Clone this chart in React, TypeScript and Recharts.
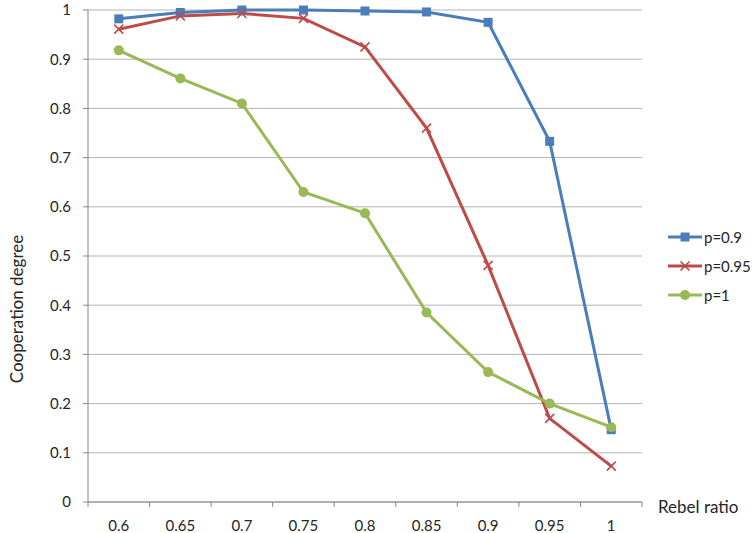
import React from 'react';
import { LineChart, Line, XAxis, YAxis, CartesianGrid } from 'recharts';

const categories = ['0.6', '0.65', '0.7', '0.75', '0.8', '0.85', '0.9', '0.95', '1'];
const p09 = [0.982, 0.995, 1.0, 1.0, 0.998, 0.996, 0.975, 0.733, 0.147];
const p095 = [0.961, 0.988, 0.993, 0.983, 0.925, 0.76, 0.481, 0.17, 0.073];
const p1 = [0.918, 0.861, 0.81, 0.63, 0.587, 0.385, 0.264, 0.2, 0.152];
const yTicks = [0, 0.1, 0.2, 0.3, 0.4, 0.5, 0.6, 0.7, 0.8, 0.9, 1];

const series = [
  { key: 'p09', name: 'p=0.9', color: '#4a7ebb', marker: 'square' },
  { key: 'p095', name: 'p=0.95', color: '#be4b48', marker: 'cross' },
  { key: 'p1', name: 'p=1', color: '#98b954', marker: 'circle' },
];

const data = categories.map((x, i) => ({ x, p09: p09[i], p095: p095[i], p1: p1[i] }));

const W = 755;
const H = 533;
const MARGIN = { top: 10, right: 113, bottom: 0, left: 0 };
const Y_W = 88;
const X_H = 31;
const BAND = (W - MARGIN.left - MARGIN.right - Y_W) / categories.length;
const FONT = 'Lato, "Open Sans", sans-serif';
const TEXT = '#262626';
const AXIS = '#868686';

const Marker = ({ type, cx, cy, color }: any) => {
  if (type === 'square') {
    return <rect x={cx - 4.5} y={cy - 4.5} width={9} height={9} fill={color} />;
  }
  if (type === 'cross') {
    return (
      <g stroke={color} strokeWidth={1.6}>
        <line x1={cx - 4.5} y1={cy - 4.5} x2={cx + 4.5} y2={cy + 4.5} />
        <line x1={cx - 4.5} y1={cy + 4.5} x2={cx + 4.5} y2={cy - 4.5} />
      </g>
    );
  }
  return <circle cx={cx} cy={cy} r={5} fill={color} />;
};

const XTick = (props: any) => {
  const { x, y, payload, index } = props;
  const last = index === categories.length - 1;
  return (
    <g>
      <line x1={x - BAND / 2} y1={y} x2={x - BAND / 2} y2={y + 5} stroke={AXIS} />
      {last && <line x1={x + BAND / 2} y1={y} x2={x + BAND / 2} y2={y + 5} stroke={AXIS} />}
      <text x={x} y={y + 23} textAnchor="middle" dominantBaseline="central" fill={TEXT} fontSize={15} fontFamily={FONT}>
        {payload.value}
      </text>
    </g>
  );
};

// legend drawn beside the chart so it doesn't eat plot height
const LegendBox = () => (
  <svg width={90} height={80} style={{ position: 'absolute', left: 668, top: 225 }}>
    {series.map((s, i) => {
      const cy = 12 + i * 29;
      return (
        <g key={s.key}>
          <line x1={0} y1={cy} x2={34} y2={cy} stroke={s.color} strokeWidth={3} />
          <Marker type={s.marker} cx={17} cy={cy} color={s.color} />
          <text x={36} y={cy} dominantBaseline="central" fill={TEXT} fontSize={15} fontFamily={FONT}>
            {s.name}
          </text>
        </g>
      );
    })}
  </svg>
);

export default function App() {
  return (
    <div style={{ position: 'absolute', left: 0, top: 0, width: W, height: H, background: '#fff' }}>
      <LineChart width={W} height={H} data={data} margin={MARGIN}>
        <CartesianGrid vertical={false} stroke="#b3b3b3" />
        <XAxis
          dataKey="x"
          scale="band"
          height={X_H}
          interval={0}
          tickSize={0}
          tickMargin={0}
          tickLine={false}
          axisLine={{ stroke: AXIS }}
          tick={<XTick />}
          label={{
            content: () => (
              <text x={658} y={506} dominantBaseline="central" fill={TEXT} fontSize={17} fontFamily={FONT}>
                Rebel ratio
              </text>
            ),
          }}
        />
        <YAxis
          width={Y_W}
          domain={[0, 1]}
          ticks={yTicks}
          interval={0}
          tickSize={5}
          tickMargin={12}
          tickLine={{ stroke: AXIS }}
          axisLine={{ stroke: AXIS }}
          tick={{ fill: TEXT, fontSize: 15, fontFamily: FONT }}
          tickFormatter={(v: number) => String(Math.round(v * 10) / 10)}
          label={{
            content: () => (
              <text
                x={16}
                y={309}
                transform="rotate(-90 16 309)"
                textAnchor="middle"
                dominantBaseline="central"
                fill={TEXT}
                fontSize={17}
                fontFamily={FONT}
              >
                Cooperation degree
              </text>
            ),
          }}
        />
        {series.map((s) => (
          <Line
            key={s.key}
            type="linear"
            dataKey={s.key}
            name={s.name}
            stroke={s.color}
            strokeWidth={3}
            isAnimationActive={false}
            dot={(p: any) => <Marker key={`${s.key}-${p.index}`} type={s.marker} cx={p.cx} cy={p.cy} color={s.color} />}
            activeDot={false}
          />
        ))}
      </LineChart>
      <LegendBox />
    </div>
  );
}
